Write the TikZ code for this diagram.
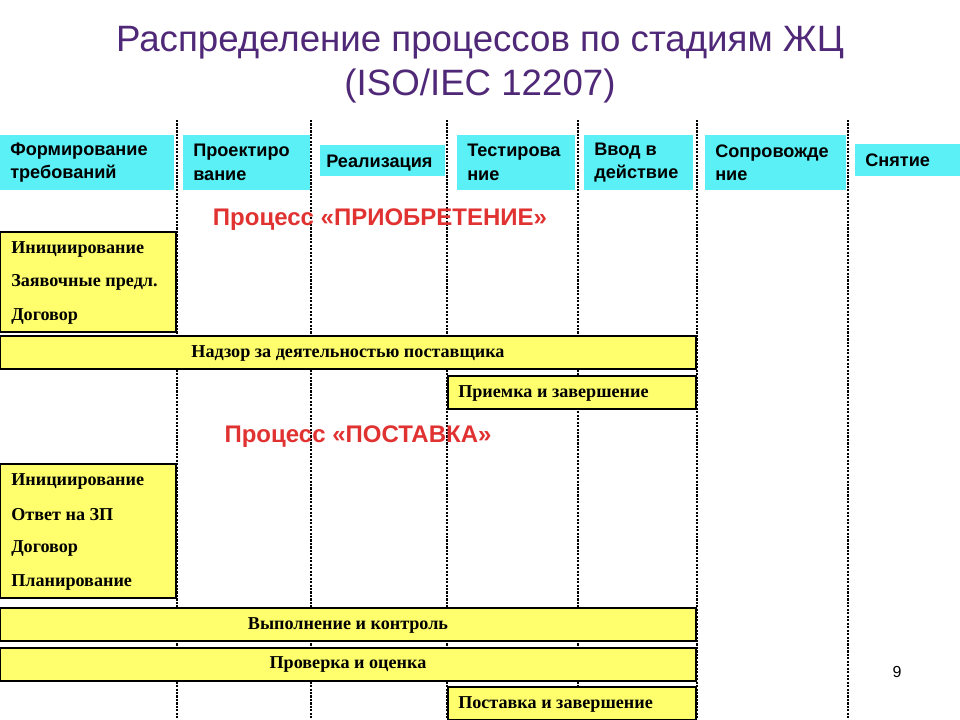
\documentclass[tikz,border=0pt]{standalone}
\usepackage{fontspec}
\setmainfont{Liberation Serif}
\newfontfamily\hsans{Liberation Sans}
\begin{document}
\begin{tikzpicture}[x=0.75pt,y=-0.75pt,
  ybox/.style={draw=black, line width=0.8pt},
  htext/.style={font=\hsans\bfseries\fontsize{13.6}{17.5}\selectfont, align=left, anchor=west, inner sep=0pt},
  ytext/.style={font=\bfseries\fontsize{13.6}{16}\selectfont, inner sep=0pt},
  red/.style={font=\hsans\bfseries\fontsize{18}{21}\selectfont, text={rgb,255:red,225;green,50;blue,50}},
  sep/.style={densely dotted, line width=1.6pt}]
\definecolor{cy}{RGB}{90,240,245}
\definecolor{ye}{RGB}{255,255,110}
\definecolor{pu}{RGB}{80,40,120}
\useasboundingbox (0,0) rectangle (960,720);
\fill[white] (0,0) rectangle (960,720);
\node[font=\hsans\fontsize{27.5}{32}\selectfont, text=pu] (t1) at (480,43) {Распределение процессов по стадиям ЖЦ};
\node[font=\hsans\fontsize{27.5}{32}\selectfont, text=pu] (t2) at (480,86) {(ISO/IEC 12207)};
\foreach \x/\n in {177/a,311/b,447/c,578/d,697/e,848/f}{
  \coordinate (s\n) at (\x,120); \coordinate (e\n) at (\x,720);
  \draw[sep] (s\n) -- (e\n);}
\foreach \xa/\xb/\ya/\yb/\n in {0/174/135/190/h1,183/310/135/190/h2,320/445/145/176/h3,457/575/135/190/h4,584/693/135/190/h5,705/846/135/190/h6,855/960/144/176/h7}{
  \fill[cy] (\xa,\ya) rectangle (\xb,\yb);
  \coordinate (\n) at (\xa+10,{(\ya+\yb)/2});}
\node[htext] (n1) at (h1) {Формирование\\требований};
\node[htext] (n2) at (h2) {Проектиро\\вание};
\node[htext] (n3) at ([xshift=-3pt,yshift=-2pt]h3) {Реализация};
\node[htext] (n4) at (h4) {Тестирова\\ние};
\node[htext] (n5) at (h5) {Ввод в\\действие};
\node[htext] (n6) at (h6) {Сопровожде\\ние};
\node[htext] (n7) at (h7) {Снятие};
\node[red] (r1) at (380,220) {Процесс «ПРИОБРЕТЕНИЕ»};
\node[red] (r2) at (358,437) {Процесс «ПОСТАВКА»};
\draw[ybox,fill=ye] (0,232) rectangle (176,332);
\node[ytext,anchor=west] (a1) at (11,249) {Инициирование};
\node[ytext,anchor=west] (a2) at (11,282) {Заявочные предл.};
\node[ytext,anchor=west] (a3) at (11,316) {Договор};
\draw[ybox,fill=ye] (0,336) rectangle (696,369);
\node[ytext] (b) at (348,353) {Надзор за деятельностью поставщика};
\draw[ybox,fill=ye] (448,376) rectangle (696,409);
\node[ytext,anchor=west] (c) at (458,393) {Приемка и завершение};
\draw[ybox,fill=ye] (0,464) rectangle (176,598);
\node[ytext,anchor=west] (d1) at (11,481) {Инициирование};
\node[ytext,anchor=west] (d2) at (11,515) {Ответ на ЗП};
\node[ytext,anchor=west] (d3) at (11,548) {Договор};
\node[ytext,anchor=west] (d4) at (11,582) {Планирование};
\draw[ybox,fill=ye] (0,608) rectangle (696,641);
\node[ytext] (e) at (348,625) {Выполнение и контроль};
\draw[ybox,fill=ye] (0,648) rectangle (696,681);
\node[ytext] (f) at (348,664) {Проверка и оценка};
\draw[ybox,fill=ye] (448,687) rectangle (696,720);
\node[ytext,anchor=west] (g) at (458,704) {Поставка и завершение};
\node[font=\hsans\fontsize{12}{14}\selectfont] (pg) at (897,672) {9};
\end{tikzpicture}
\end{document}
